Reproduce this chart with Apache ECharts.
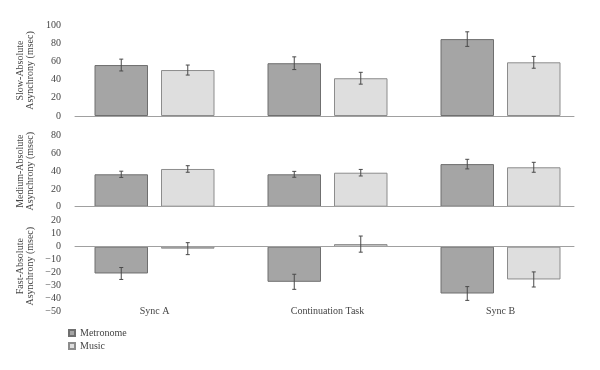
<!DOCTYPE html>
<html><head><meta charset="utf-8">
<script src="https://cdn.jsdelivr.net/npm/echarts@6/dist/echarts.min.js"></script>
<style>html,body{margin:0;padding:0;background:#fff}#c{width:600px;height:370px}</style>
</head><body><div id="c"></div>
<script>
var categories = ['Sync A', 'Continuation Task', 'Sync B'];
var seriesNames = ['Metronome', 'Music'];
// Slow
var slowMetronome = [56, 58, 84.5];
var slowMetronomeErr = [6.5, 7, 8];
var slowMusic = [50.5, 41.5, 59];
var slowMusicErr = [5.5, 6.5, 6.5];
// Medium
var medMetronome = [36.5, 36.5, 48];
var medMetronomeErr = [3.5, 3.3, 5.4];
var medMusic = [42.5, 38.3, 44.4];
var medMusicErr = [3.7, 3.7, 5.6];
// Fast
var fastMetronome = [-20.6, -27, -36];
var fastMetronomeErr = [4.6, 5.8, 5.3];
var fastMusic = [-1.5, 2, -25.2];
var fastMusicErr = [4.6, 6.2, 5.8];
var panelTitles = ['Slow-Absolute\nAsynchrony (msec)', 'Medium-Absolute\nAsynchrony (msec)', 'Fast-Absolute\nAsynchrony (msec)'];
var panelRanges = [[0, 100, 20], [0, 80, 20], [-50, 20, 10]];

var FONT = 'Liberation Serif';
var BAR_W = 53.5, GAP = 13;
var colors = ['#a5a5a5', '#dedede'];
var borders = ['#6f6f6f', '#8c8c8c'];

var panelBoxes = [
  {top: 25, height: 91},
  {top: 135.7, height: 71},
  {top: 220.7, height: 91}
];
var grids = [];
panelBoxes.forEach(function (b) { grids.push({left: 68, right: 13, top: b.top, height: b.height}); });
// overlay grids for the shorter zero lines
panelBoxes.forEach(function (b) { grids.push({left: 75, right: 26, top: b.top, height: b.height}); });

var xAxes = [], yAxes = [], series = [];
var panels = [
  [slowMetronome, slowMetronomeErr, slowMusic, slowMusicErr],
  [medMetronome, medMetronomeErr, medMusic, medMusicErr],
  [fastMetronome, fastMetronomeErr, fastMusic, fastMusicErr]
];

function errSeries(idx, vals, errs, offset) {
  return {
    type: 'custom', xAxisIndex: idx, yAxisIndex: idx, z: 10, silent: true,
    data: vals.map(function (v, i) { return [i, v - errs[i], v + errs[i]]; }),
    renderItem: function (params, api) {
      var lo = api.coord([api.value(0), api.value(1)]);
      var hi = api.coord([api.value(0), api.value(2)]);
      var x = lo[0] + offset;
      var st = {stroke: '#4a4a4a', lineWidth: 1};
      return {type: 'group', children: [
        {type: 'line', shape: {x1: x, y1: lo[1], x2: x, y2: hi[1]}, style: st},
        {type: 'line', shape: {x1: x - 2, y1: lo[1], x2: x + 2, y2: lo[1]}, style: st},
        {type: 'line', shape: {x1: x - 2, y1: hi[1], x2: x + 2, y2: hi[1]}, style: st}
      ]};
    }
  };
}

panels.forEach(function (p, i) {
  xAxes.push({
    type: 'category', gridIndex: i, data: categories,
    axisLine: {show: false}, axisTick: {show: false}, axisLabel: {show: false}, splitLine: {show: false}
  });
  yAxes.push({
    type: 'value', gridIndex: i, min: panelRanges[i][0], max: panelRanges[i][1], interval: panelRanges[i][2],
    axisLine: {show: false}, axisTick: {show: false}, splitLine: {show: false},
    axisLabel: {color: '#444', fontFamily: FONT, fontSize: 10, margin: 7,
      formatter: function (v) { return v < 0 ? '\u2212' + (-v) : '' + v; }},
    name: panelTitles[i], nameLocation: 'middle', nameGap: 32, nameMoveOverlap: false,
    nameTextStyle: {color: '#444', fontFamily: FONT, fontSize: 10, lineHeight: 10.5}
  });
  series.push({
    name: seriesNames[0], type: 'bar', xAxisIndex: i, yAxisIndex: i, data: p[0],
    barWidth: BAR_W, barGap: (GAP / BAR_W * 100) + '%',
    itemStyle: {color: colors[0], borderColor: borders[0], borderWidth: 1}
  });
  series.push({
    name: seriesNames[1], type: 'bar', xAxisIndex: i, yAxisIndex: i, data: p[2],
    barWidth: BAR_W, barGap: (GAP / BAR_W * 100) + '%',
    itemStyle: {color: colors[1], borderColor: borders[1], borderWidth: 1}
  });
  series.push(errSeries(i, p[0], p[1], -(BAR_W + GAP) / 2));
  series.push(errSeries(i, p[2], p[3], (BAR_W + GAP) / 2));
});

// zero-line axes on overlay grids
panels.forEach(function (p, i) {
  xAxes.push({
    type: 'category', gridIndex: 3 + i, data: categories, z: 5,
    axisLine: {onZero: true, lineStyle: {color: '#a0a0a0', width: 1}},
    axisTick: {show: false}, axisLabel: {show: false}, splitLine: {show: false}
  });
  yAxes.push({
    type: 'value', gridIndex: 3 + i, min: panelRanges[i][0], max: panelRanges[i][1], interval: panelRanges[i][2],
    show: false
  });
});

// label axis at bottom of last panel
xAxes.push({
  type: 'category', gridIndex: 2, data: categories, position: 'bottom',
  axisLine: {show: false, onZero: false}, axisTick: {show: false}, splitLine: {show: false},
  axisLabel: {color: '#444', fontFamily: FONT, fontSize: 10, margin: -5}
});

var chart = echarts.init(document.getElementById('c'), null, {renderer: 'canvas'});
chart.setOption({
  animation: false,
  backgroundColor: '#fff',
  grid: grids,
  xAxis: xAxes,
  yAxis: yAxes,
  legend: {
    data: seriesNames, orient: 'vertical', left: 63, top: 323,
    icon: 'rect', itemWidth: 6, itemHeight: 6, itemGap: 3,
    textStyle: {color: '#444', fontFamily: FONT, fontSize: 10},
    selectedMode: false
  },
  series: series
});
</script></body></html>
